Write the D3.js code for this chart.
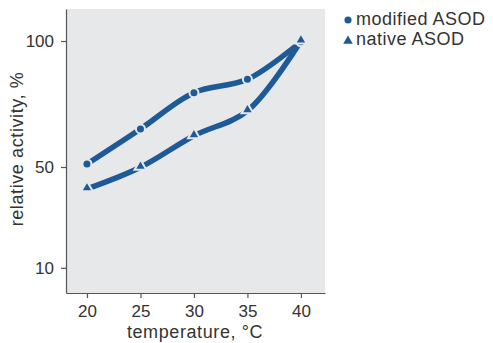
<!DOCTYPE html>
<html>
<head>
<meta charset="utf-8">
<script src="https://cdn.jsdelivr.net/npm/d3@7"></script>
<style>
  body { margin: 0; background: #fff; }
  text { font-family: "Liberation Sans", Arial, sans-serif; fill: #333; }
</style>
</head>
<body>
<div id="chart"></div>
<script>
const temps = [20, 25, 30, 35, 40];
const modified = [51.2, 65.1, 79.5, 84.8, 99.7];
const native = [41.3, 49.9, 62.4, 72.3, 100];
const yTicks = [10, 50, 100];
const seriesNames = ['modified ASOD', 'native ASOD'];

const width = 493, height = 343;
const margin = { top: 9, right: 168, bottom: 50, left: 66 };
const blue = '#1d5a97';
const panel = '#e7e8ea';

const svg = d3.select('#chart').append('svg')
  .attr('width', width)
  .attr('height', height);

const x = d3.scaleLinear().domain([18.04, 42.25]).range([margin.left, width - margin.right]);
const y = d3.scaleLinear().domain([0, 112.7]).range([height - margin.bottom, margin.top]);

// plot background
svg.append('rect')
  .attr('x', margin.left)
  .attr('y', margin.top)
  .attr('width', width - margin.right - margin.left)
  .attr('height', height - margin.bottom - margin.top)
  .attr('fill', panel);

const xAxis = svg.append('g')
  .attr('transform', `translate(0, ${height - margin.bottom})`)
  .call(d3.axisBottom(x).tickValues(temps).tickSize(5).tickPadding(7).tickSizeOuter(0));

const yAxis = svg.append('g')
  .attr('transform', `translate(${margin.left}, 0)`)
  .call(d3.axisLeft(y).tickValues(yTicks).tickSize(5).tickPadding(7).tickSizeOuter(0));

[xAxis, yAxis].forEach(a => {
  a.selectAll('path, line').attr('stroke', '#555').attr('stroke-width', 1.2);
  a.selectAll('text').style('font-size', '17px').attr('fill', '#333');
});

svg.append('text')
  .attr('x', 195)
  .attr('y', 338)
  .attr('text-anchor', 'middle')
  .style('font-size', '18px')
  .style('letter-spacing', '0.6px')
  .text('temperature, °C');

svg.append('text')
  .attr('transform', `translate(23, 149) rotate(-90)`)
  .attr('text-anchor', 'middle')
  .style('font-size', '18px')
  .style('letter-spacing', '0.6px')
  .text('relative activity, %');

const line = d3.line()
  .x((d, i) => x(temps[i]))
  .y(d => y(d))
  .curve(d3.curveCatmullRom);

[modified, native].forEach(s => {
  svg.append('path')
    .datum(s)
    .attr('d', line)
    .attr('fill', 'none')
    .attr('stroke', blue)
    .attr('stroke-width', 5.5)
    .attr('stroke-linecap', 'butt');
});

const circleSym = d3.symbol().type(d3.symbolCircle).size(64);
const triSym = d3.symbol().type(d3.symbolTriangle).size(60);

svg.append('g').selectAll('path')
  .data(modified)
  .join('path')
  .attr('transform', (d, i) => `translate(${x(temps[i])}, ${y(d)})`)
  .attr('d', circleSym)
  .attr('fill', blue)
  .attr('stroke', panel)
  .attr('stroke-width', 2);

svg.append('g').selectAll('path')
  .data(native)
  .join('path')
  .attr('transform', (d, i) => `translate(${x(temps[i])}, ${y(d) - 1})`)
  .attr('d', triSym)
  .attr('fill', blue)
  .attr('stroke', panel)
  .attr('stroke-width', 2);

// legend
const legend = svg.append('g').attr('transform', 'translate(348, 20)');
legend.append('path')
  .attr('d', d3.symbol().type(d3.symbolCircle).size(40))
  .attr('fill', blue);
legend.append('path')
  .attr('transform', 'translate(0, 21)')
  .attr('d', d3.symbol().type(d3.symbolTriangle).size(40))
  .attr('fill', blue);
legend.selectAll('text')
  .data(seriesNames)
  .join('text')
  .attr('x', 8)
  .attr('y', (d, i) => 5 + i * 20)
  .style('font-size', '18px')
  .style('letter-spacing', '0.5px')
  .text(d => d);
</script>
</body>
</html>
